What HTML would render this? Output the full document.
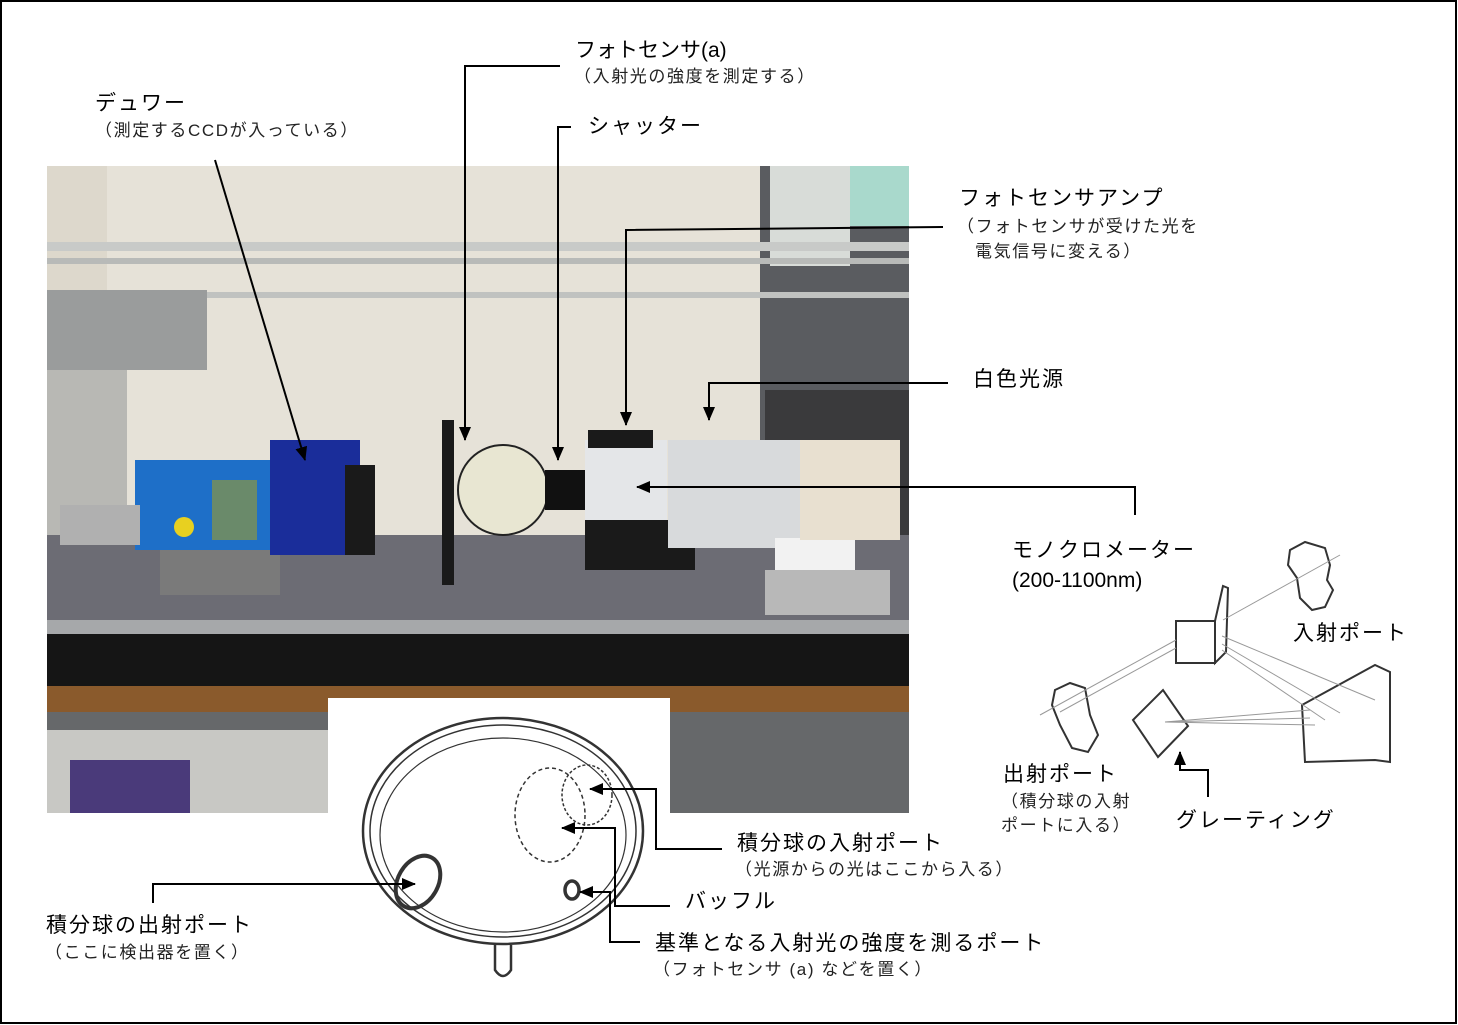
<!DOCTYPE html>
<html><head><meta charset="utf-8"><style>
body{margin:0;width:1458px;height:1025px;background:#fff;position:relative;overflow:hidden;font-family:"Liberation Sans","Noto Sans CJK JP",sans-serif;color:#000}
.t{position:absolute;white-space:nowrap;line-height:1}
.b{font-size:21px;letter-spacing:2px}
.s{font-size:17px;color:#222;letter-spacing:1.6px}
.n{letter-spacing:0}
</style></head><body>
<svg width="1458" height="1025" style="position:absolute;left:0;top:0">
<defs><marker id="a2" markerWidth="14" markerHeight="12" refX="13" refY="6" orient="auto" markerUnits="userSpaceOnUse"><path d="M0,0L14,6L0,12z" fill="#000"/></marker></defs>
<rect x="1" y="1" width="1455" height="1022" fill="none" stroke="#000" stroke-width="2"/>
<g>
<rect x="47" y="166" width="862" height="647" fill="#e6e2d8"/>
<rect x="47" y="166" width="60" height="130" fill="#ddd8cc"/>
<rect x="760" y="166" width="149" height="375" fill="#5a5c60"/>
<rect x="770" y="166" width="80" height="100" fill="#d8dcd8"/>
<rect x="850" y="166" width="59" height="60" fill="#a9d9cc"/>
<rect x="765" y="390" width="144" height="150" fill="#3a3a3c"/>
<rect x="47" y="242" width="862" height="9" fill="#c8cac8"/>
<rect x="47" y="258" width="862" height="6" fill="#b8bab8"/>
<rect x="47" y="292" width="862" height="6" fill="#c0c2c0"/>
<rect x="47" y="290" width="160" height="80" fill="#9a9c9c"/>
<rect x="47" y="370" width="80" height="200" fill="#b8b8b4"/>
<rect x="47" y="535" width="862" height="98" fill="#6c6c74"/>
<rect x="47" y="620" width="862" height="14" fill="#a6a8aa"/>
<rect x="47" y="634" width="862" height="52" fill="#151515"/>
<rect x="47" y="686" width="862" height="26" fill="#8a5a2c"/>
<rect x="47" y="712" width="862" height="101" fill="#66686a"/>
<rect x="47" y="730" width="290" height="83" fill="#c8c8c4"/>
<rect x="70" y="760" width="120" height="53" fill="#4a3a7a"/>
<rect x="160" y="545" width="120" height="50" fill="#7a7a7a"/>
<rect x="135" y="460" width="150" height="90" fill="#1e6fc8"/>
<rect x="270" y="440" width="90" height="115" fill="#1a2d9a"/>
<rect x="345" y="465" width="30" height="90" fill="#1a1a1a"/>
<rect x="60" y="505" width="80" height="40" fill="#b0b0b0"/>
<circle cx="184" cy="527" r="10" fill="#e8d020"/>
<rect x="212" y="480" width="45" height="60" fill="#6a8a6a"/>
<rect x="442" y="420" width="12" height="165" fill="#1a1a1a"/>
<circle cx="503" cy="490" r="45" fill="#e8e6d2" stroke="#222" stroke-width="2"/>
<rect x="545" y="470" width="55" height="40" fill="#111"/>
<rect x="585" y="440" width="82" height="80" fill="#e4e6e8"/>
<rect x="588" y="430" width="65" height="18" fill="#1a1a1a"/>
<rect x="585" y="520" width="110" height="50" fill="#1a1a1a"/>
<rect x="668" y="440" width="135" height="108" fill="#d8dadc"/>
<rect x="775" y="538" width="80" height="40" fill="#f2f2f2"/>
<rect x="765" y="570" width="125" height="45" fill="#b8b8b8"/>
<rect x="800" y="440" width="100" height="100" fill="#e8e0d0"/>
</g>
<rect x="328" y="698" width="342" height="310" fill="#fff"/>
<g fill="none" stroke="#333" stroke-width="2.5">
<ellipse cx="503" cy="831" rx="140" ry="113"/>
<ellipse cx="503" cy="831" rx="133" ry="106" stroke-width="1.5"/>
<ellipse cx="503" cy="835" rx="123" ry="97" stroke-width="1.2"/>
<ellipse cx="418" cy="882" rx="20" ry="28" transform="rotate(30 418 882)" stroke-width="4"/>
<ellipse cx="572" cy="890" rx="7" ry="9" stroke-width="3.5"/>
<ellipse cx="550" cy="815" rx="35" ry="47" stroke-dasharray="4,3" stroke-width="1.5"/>
<ellipse cx="587" cy="795" rx="25" ry="30" stroke-dasharray="3,2" stroke-width="1.5"/>
<path d="M495,945 L495,970 Q503,982 511,970 L511,945"/>
</g>
<g fill="none" stroke="#000" stroke-width="2">
<path d="M560,66H465V440" marker-end="url(#a2)"/>
<path d="M571,127H558V460" marker-end="url(#a2)"/>
<path d="M215,160L305,460" marker-end="url(#a2)"/>
<path d="M943,227L626,230V425" marker-end="url(#a2)"/>
<path d="M948,383H709V420" marker-end="url(#a2)"/>
<path d="M1135,515V487H637" marker-end="url(#a2)"/>
<path d="M722,849H656V789H590" marker-end="url(#a2)"/>
<path d="M670,906H615V828H562" marker-end="url(#a2)"/>
<path d="M640,942H610V892H580" marker-end="url(#a2)"/>
<path d="M153,903V884H415" marker-end="url(#a2)"/>
<path d="M1208,797V770H1180V752" marker-end="url(#a2)"/>
</g>
<g fill="#fff" stroke="#333" stroke-width="2">
<path d="M1290,550L1305,542L1325,548L1330,565L1327,580L1333,590L1325,607L1312,610L1300,598L1297,578L1288,565Z"/>
<rect x="1176" y="621" width="39" height="42"/>
<path d="M1215,621L1223,586L1228,588L1226,652L1215,663Z"/>
<path d="M1302,705L1375,665L1390,672L1390,762L1375,760L1305,762Z"/>
<path d="M1133,720L1163,690L1188,726L1158,757Z"/>
<path d="M1055,690L1070,683L1085,688L1090,715L1098,735L1088,752L1072,748L1060,725L1052,705Z"/>
</g>
<g fill="none" stroke="#999" stroke-width="1">
<path d="M1340,555L1223,620"/>
<path d="M1222,636L1375,700"/><path d="M1222,644L1340,713"/><path d="M1222,650L1325,720"/>
<path d="M1176,640L1040,715"/><path d="M1176,648L1060,712"/>
<path d="M1165,722L1310,710"/><path d="M1165,722L1315,725"/><path d="M1165,722L1310,718"/>
</g>
</svg>
<div class="t b n" style="left:575px;top:40px">フォトセンサ(a)</div>
<div class="t s" style="left:574px;top:68px">（入射光の強度を測定する）</div>
<div class="t b" style="left:95px;top:93px">デュワー</div>
<div class="t s" style="left:95px;top:122px">（測定するCCDが入っている）</div>
<div class="t b" style="left:588px;top:116px">シャッター</div>
<div class="t b" style="left:959px;top:188px">フォトセンサアンプ</div>
<div class="t s" style="left:957px;top:218px">（フォトセンサが受けた光を</div>
<div class="t s" style="left:975px;top:243px">電気信号に変える）</div>
<div class="t b" style="left:973px;top:369px">白色光源</div>
<div class="t b" style="left:1012px;top:540px">モノクロメーター</div>
<div class="t b n" style="left:1012px;top:570px">(200-1100nm)</div>
<div class="t b" style="left:1293px;top:623px">入射ポート</div>
<div class="t b" style="left:1003px;top:764px">出射ポート</div>
<div class="t s" style="left:1001px;top:793px">（積分球の入射</div>
<div class="t s" style="left:1001px;top:817px">ポートに入る）</div>
<div class="t b" style="left:1176px;top:810px">グレーティング</div>
<div class="t b" style="left:737px;top:833px">積分球の入射ポート</div>
<div class="t s" style="left:735px;top:861px">（光源からの光はここから入る）</div>
<div class="t b" style="left:685px;top:891px">バッフル</div>
<div class="t b" style="left:655px;top:933px">基準となる入射光の強度を測るポート</div>
<div class="t s" style="left:653px;top:961px">（フォトセンサ (a) などを置く）</div>
<div class="t b" style="left:46px;top:915px">積分球の出射ポート</div>
<div class="t s" style="left:45px;top:944px">（ここに検出器を置く）</div>
</body></html>
